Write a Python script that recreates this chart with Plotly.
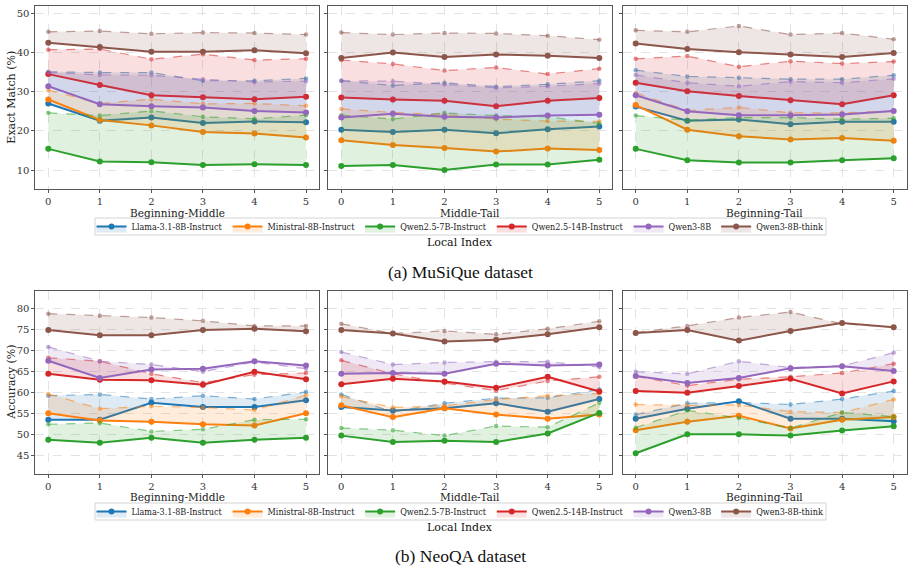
import plotly.graph_objects as go

# ---------------- data ----------------
MODELS = ["Llama-3.1-8B-Instruct", "Ministral-8B-Instruct", "Qwen2.5-7B-Instruct",
          "Qwen2.5-14B-Instruct", "Qwen3-8B", "Qwen3-8B-think"]
COLORS = ["#1f77b4", "#ff7f0e", "#2ca02c", "#d62728", "#9467bd", "#8c564b"]
LOCAL_INDEX = [0, 1, 2, 3, 4, 5]
SPLITS = ["Beginning-Middle", "Middle-Tail", "Beginning-Tail"]

# MuSiQue - Exact Match (%) ; rows follow MODELS order
MUS_BM_SOLID = [
    [27.0, 22.6, 23.4, 22.0, 22.4, 22.2],
    [28.0, 22.8, 21.4, 19.7, 19.3, 18.3],
    [15.4, 12.2, 12.0, 11.3, 11.5, 11.3],
    [34.5, 31.7, 29.1, 28.6, 28.1, 28.7],
    [31.4, 26.8, 26.3, 26.0, 25.1, 24.7],
    [42.5, 41.4, 40.2, 40.2, 40.6, 39.8],
]
MUS_BM_DASHED = [
    [35.1, 34.9, 34.9, 32.8, 32.8, 33.4],
    [30.4, 27.0, 28.1, 26.9, 27.0, 26.4],
    [24.6, 23.9, 25.1, 23.6, 23.1, 24.0],
    [40.7, 40.9, 38.3, 39.6, 38.1, 38.4],
    [34.9, 34.3, 34.2, 33.2, 32.5, 32.7],
    [45.3, 45.5, 44.8, 45.1, 45.0, 44.6],
]
MUS_MT_SOLID = [
    [20.3, 19.7, 20.3, 19.4, 20.4, 21.1],
    [17.6, 16.4, 15.6, 14.7, 15.5, 15.1],
    [11.0, 11.3, 10.0, 11.4, 11.4, 12.6],
    [28.5, 28.0, 27.7, 26.3, 27.7, 28.4],
    [23.4, 24.4, 23.6, 23.4, 23.9, 24.1],
    [38.6, 40.0, 38.9, 39.5, 39.2, 38.6],
]
MUS_MT_DASHED = [
    [32.8, 31.6, 32.3, 31.3, 31.9, 32.8],
    [25.6, 24.7, 24.2, 23.0, 22.5, 22.4],
    [24.0, 23.0, 24.6, 23.9, 23.6, 21.9],
    [38.1, 37.1, 35.4, 36.2, 34.5, 35.9],
    [32.8, 32.7, 31.9, 31.0, 31.4, 32.1],
    [45.1, 44.6, 45.0, 44.9, 44.3, 43.3],
]
MUS_BT_SOLID = [
    [26.2, 22.6, 22.9, 21.7, 22.3, 22.3],
    [26.6, 20.3, 18.6, 17.8, 18.2, 17.5],
    [15.4, 12.5, 11.9, 11.9, 12.5, 13.0],
    [32.3, 30.1, 28.9, 27.8, 26.8, 29.1],
    [29.1, 25.0, 24.0, 24.0, 24.2, 25.1],
    [42.3, 40.9, 40.1, 39.5, 38.9, 39.9],
]
MUS_BT_DASHED = [
    [35.5, 33.9, 33.6, 33.2, 33.2, 34.2],
    [29.7, 25.2, 26.0, 24.6, 24.6, 25.1],
    [23.9, 22.7, 23.4, 23.4, 23.0, 23.2],
    [38.4, 39.1, 36.4, 37.8, 37.2, 37.7],
    [34.3, 32.3, 31.4, 32.6, 32.3, 33.3],
    [45.7, 45.3, 46.8, 44.6, 45.0, 43.4],
]

# NeoQA - Accuracy (%)
NEO_BM_SOLID = [
    [53.6, 53.6, 57.6, 56.6, 56.6, 58.2],
    [55.1, 53.4, 53.1, 52.5, 52.2, 55.1],
    [48.8, 48.1, 49.3, 48.1, 48.8, 49.3],
    [64.5, 63.1, 63.0, 61.9, 65.0, 63.2],
    [67.6, 63.5, 65.5, 65.7, 67.5, 66.5],
    [74.9, 73.7, 73.7, 74.9, 75.2, 74.6],
]
NEO_BM_DASHED = [
    [59.3, 59.6, 58.5, 59.3, 58.5, 60.2],
    [59.7, 56.2, 56.8, 56.5, 55.9, 59.4],
    [52.5, 52.8, 50.8, 51.3, 53.6, 53.7],
    [68.3, 67.5, 64.5, 62.4, 64.3, 64.7],
    [70.9, 67.5, 66.7, 65.0, 67.3, 65.7],
    [78.8, 78.3, 77.9, 77.1, 75.9, 75.9],
]
NEO_MT_SOLID = [
    [56.6, 55.8, 56.3, 57.5, 55.5, 58.5],
    [57.0, 54.2, 56.3, 54.8, 53.8, 54.8],
    [49.8, 48.3, 48.6, 48.3, 50.3, 55.2],
    [62.0, 63.3, 62.7, 61.2, 63.8, 60.3],
    [64.5, 64.7, 64.5, 66.9, 66.5, 66.7],
    [74.9, 74.1, 72.2, 72.6, 73.9, 75.6],
]
NEO_MT_DASHED = [
    [59.6, 55.4, 57.5, 58.7, 58.8, 60.8],
    [59.1, 56.5, 56.9, 58.4, 59.3, 59.8],
    [51.6, 51.1, 49.8, 52.1, 51.8, 57.6],
    [67.7, 64.5, 62.3, 60.5, 62.8, 63.8],
    [69.7, 66.7, 67.2, 67.4, 67.4, 66.1],
    [76.4, 74.1, 74.7, 73.9, 75.2, 77.0],
]
NEO_BT_SOLID = [
    [53.8, 56.2, 58.0, 53.8, 53.8, 53.2],
    [51.1, 53.1, 54.5, 51.5, 53.6, 54.2],
    [45.6, 50.1, 50.1, 49.8, 51.0, 52.0],
    [60.4, 60.0, 61.6, 63.3, 59.8, 62.7],
    [64.0, 62.3, 63.5, 65.8, 66.3, 65.2],
    [74.2, 74.9, 72.4, 74.7, 76.6, 75.6],
]
NEO_BT_DASHED = [
    [54.8, 57.5, 57.7, 57.2, 58.5, 60.4],
    [57.2, 57.0, 57.1, 55.5, 55.3, 58.4],
    [51.7, 55.8, 54.0, 51.6, 55.3, 54.3],
    [63.9, 61.7, 63.2, 63.8, 64.7, 66.9],
    [65.0, 64.5, 67.5, 66.0, 66.4, 69.5],
    [74.3, 75.9, 77.9, 79.2, 76.4, 75.6],
]

MUS_TICKS = [10, 20, 30, 40, 50]
NEO_TICKS = [45, 50, 55, 60, 65, 70, 75, 80]

# ---------------- figure ----------------
W, H = 913, 573
FONT = "DejaVu Serif, serif"
LEG_FONT = "DejaVu Serif Condensed, DejaVu Serif, serif"


def rgba(hx, a):
    hx = hx.lstrip("#")
    r, g, b = int(hx[0:2], 16), int(hx[2:4], 16), int(hx[4:6], 16)
    return f"rgba({r},{g},{b},{a})"


fig = go.Figure()

x_doms = [[35.4 / W, 318.9 / W], [328.4 / W, 612.2 / W], [622.8 / W, 906.6 / W]]
row_doms = [[1 - 189.3 / H, 1 - 6 / H], [1 - 474.3 / H, 1 - 291 / H]]
row_ranges = [[5.07, 51.9], [40.6, 84.2]]
row_ticks = [MUS_TICKS, NEO_TICKS]
row_ytitle = ["Exact Match (%)", "Accuracy (%)"]
row_legend = ["legend", "legend2"]
row_xtitle_y = [213, 497]
row_legend_y = [226.5, 511.5]
row_local_y = [242.5, 527.5]
row_caption = ["(a) MuSiQue dataset", "(b) NeoQA dataset"]
row_caption_y = [272, 556]

panels = [
    [(MUS_BM_SOLID, MUS_BM_DASHED), (MUS_MT_SOLID, MUS_MT_DASHED), (MUS_BT_SOLID, MUS_BT_DASHED)],
    [(NEO_BM_SOLID, NEO_BM_DASHED), (NEO_MT_SOLID, NEO_MT_DASHED), (NEO_BT_SOLID, NEO_BT_DASHED)],
]

layout_axes = {}
for r in range(2):
    for c in range(3):
        idx = r * 3 + c + 1
        xa = "x" if idx == 1 else f"x{idx}"
        ya = "y" if idx == 1 else f"y{idx}"
        solid, dashed = panels[r][c]
        for m in range(6):
            col = COLORS[m]
            fig.add_trace(go.Scatter(
                x=LOCAL_INDEX, y=dashed[m], xaxis=xa, yaxis=ya,
                mode="lines+markers",
                line=dict(color=rgba(col, 0.55), width=1.2, dash="dash"),
                marker=dict(color=rgba(col, 0.55), size=4.5),
                showlegend=False, hoverinfo="skip",
            ))
            fig.add_trace(go.Scatter(
                x=LOCAL_INDEX, y=solid[m], xaxis=xa, yaxis=ya,
                mode="lines+markers", name=MODELS[m],
                line=dict(color=col, width=2),
                marker=dict(color=col, size=6),
                fill="tonexty", fillcolor=rgba(col, 0.15),
                showlegend=(c == 0), legend=row_legend[r],
            ))
        axis_common = dict(
            showline=True, mirror=True, linecolor="#555", linewidth=1,
            ticks="outside", ticklen=3, tickcolor="#555", tickwidth=1,
            showgrid=True, gridcolor="#e3e3e3", griddash="dash", gridwidth=0.7,
            zeroline=False, tickfont=dict(family=FONT, size=10, color="#333"),
        )
        layout_axes["xaxis" if idx == 1 else f"xaxis{idx}"] = dict(
            axis_common, domain=x_doms[c], anchor=ya, range=[-0.25, 5.25],
            tickvals=LOCAL_INDEX,
        )
        layout_axes["yaxis" if idx == 1 else f"yaxis{idx}"] = dict(
            axis_common, domain=row_doms[r], anchor=xa, range=row_ranges[r],
            tickvals=row_ticks[r], showticklabels=(c == 0),
        )
        # x-axis title, centred under its own subplot
        fig.add_annotation(text=SPLITS[c], xref=f"{xa} domain", x=0.5,
                           yref="paper", y=1 - row_xtitle_y[r] / H,
                           showarrow=False, xanchor="center", yanchor="middle",
                           font=dict(family=FONT, size=10.5, color="#222"))
    # y-axis title
    fig.add_annotation(text=row_ytitle[r], textangle=-90, xref="paper", x=12 / W,
                       yref="paper", y=sum(row_doms[r]) / 2,
                       showarrow=False, xanchor="center", yanchor="middle",
                       font=dict(family=FONT, size=11, color="#222"))

leg_common = dict(
    orientation="h", xanchor="center", yanchor="middle", x=460 / W,
    font=dict(family=LEG_FONT, size=9, color="#222"),
    bgcolor="rgba(0,0,0,0)", borderwidth=0,
    itemwidth=30, tracegroupgap=0, traceorder="normal",
)

fig.update_layout(
    width=W, height=H, margin=dict(l=0, r=0, t=0, b=0),
    paper_bgcolor="white", plot_bgcolor="white",
    legend=dict(leg_common, y=1 - row_legend_y[0] / H),
    legend2=dict(leg_common, y=1 - row_legend_y[1] / H),
    **layout_axes,
)

for r in range(2):
    # legend frame (decorative box behind the legend row)
    fig.add_shape(type="rect", xref="paper", yref="paper",
                  x0=95 / W, x1=826 / W,
                  y0=1 - (row_legend_y[r] + 8.5) / H, y1=1 - (row_legend_y[r] - 8.5) / H,
                  line=dict(color="#d4d4d4", width=1), fillcolor="white", layer="below")
    fig.add_annotation(text="Local Index", x=460 / W, y=1 - row_local_y[r] / H,
                       xref="paper", yref="paper", showarrow=False,
                       xanchor="center", yanchor="middle",
                       font=dict(family=FONT, size=11, color="#111"))
    fig.add_annotation(text=row_caption[r], x=460 / W, y=1 - row_caption_y[r] / H,
                       xref="paper", yref="paper", showarrow=False,
                       xanchor="center", yanchor="middle",
                       font=dict(family="Liberation Serif, serif", size=17.5, color="#111"))

fig.write_html("out.html")
